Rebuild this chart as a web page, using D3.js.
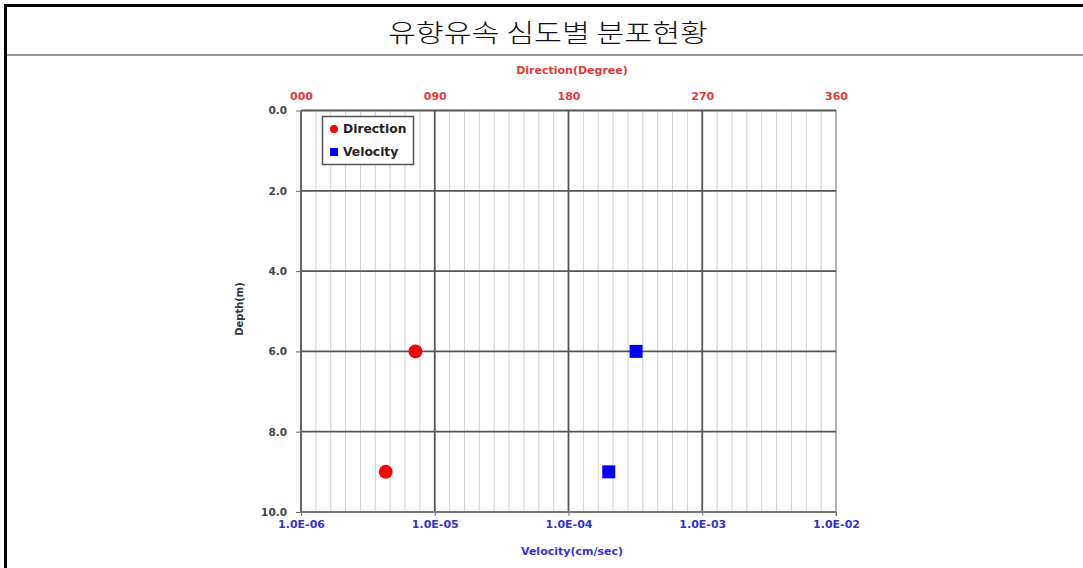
<!DOCTYPE html>
<html><head><meta charset="utf-8">
<script src="https://cdn.jsdelivr.net/npm/d3@7"></script>
<style>
html,body{margin:0;padding:0;background:#fff;}
svg{display:block;}
</style></head>
<body>
<script>
// ---- data ----
const depths = [6.0, 9.0];
const directionDeg = [77, 57];
const velocityCms = [3.2e-4, 2.0e-4];
const depthTicks = [0, 2, 4, 6, 8, 10];
const directionTicks = [0, 90, 180, 270, 360];
const velocityTicks = [1e-6, 1e-5, 1e-4, 1e-3, 1e-2];
const titleText = "유향유속 심도별 분포현황";
const legendItems = ["Direction", "Velocity"];

const W = 1083, H = 568;
const svg = d3.select("body").append("svg").attr("width", W).attr("height", H);

// frame
svg.append("line").attr("x1", 4).attr("x2", W).attr("y1", 5.5).attr("y2", 5.5).attr("stroke", "#000").attr("stroke-width", 3);
svg.append("line").attr("x1", 5.5).attr("x2", 5.5).attr("y1", 4).attr("y2", H).attr("stroke", "#000").attr("stroke-width", 3);
svg.append("line").attr("x1", 7).attr("x2", W).attr("y1", 55).attr("y2", 55).attr("stroke", "#777").attr("stroke-width", 1.6);

svg.append("text").attr("x", 548).attr("y", 42).attr("text-anchor", "middle")
  .attr("font-family", "'Noto Sans CJK KR'").attr("font-size", 25).attr("font-weight", 300).attr("fill", "#111")
  .attr("textLength", 320).attr("lengthAdjust", "spacingAndGlyphs")
  .text(titleText);

const x0 = 301, x1 = 836, y0 = 110.5, y1 = 512;
const xV = d3.scaleLog().domain([1e-6, 1e-2]).range([x0, x1]);
const xD = d3.scaleLinear().domain([0, 360]).range([x0, x1]);
const y = d3.scaleLinear().domain([0, 10]).range([y0, y1]);

const g = svg.append("g");
const font = "'DejaVu Sans', sans-serif";

// minor vertical grid (every 10 degrees)
g.selectAll(".minor").data(d3.range(10, 360, 10).filter(d => d % 90 !== 0)).join("line")
  .attr("x1", d => xD(d)).attr("x2", d => xD(d)).attr("y1", y0).attr("y2", y1)
  .attr("stroke", "#d0d0d0").attr("stroke-width", 1);
// major vertical grid
g.selectAll(".majorV").data(directionTicks.slice(1, 4)).join("line")
  .attr("x1", d => xD(d)).attr("x2", d => xD(d)).attr("y1", y0).attr("y2", y1)
  .attr("stroke", "#555").attr("stroke-width", 1.8);
// right edge
g.append("line").attr("x1", x1).attr("x2", x1).attr("y1", y0).attr("y2", y1 + 4).attr("stroke", "#999").attr("stroke-width", 1.5);
// horizontal grid
g.selectAll(".majorH").data(depthTicks.slice(1, 5)).join("line")
  .attr("x1", x0).attr("x2", x1).attr("y1", d => y(d)).attr("y2", d => y(d))
  .attr("stroke", "#555").attr("stroke-width", 1.8);
// top axis line
g.append("line").attr("x1", x0).attr("x2", x1).attr("y1", y0).attr("y2", y0).attr("stroke", "#555").attr("stroke-width", 1.8);
// bottom axis line
g.append("line").attr("x1", x0).attr("x2", x1).attr("y1", y1).attr("y2", y1).attr("stroke", "#777").attr("stroke-width", 1.8);
// left axis line
g.append("line").attr("x1", x0).attr("x2", x0).attr("y1", y0).attr("y2", y1).attr("stroke", "#666").attr("stroke-width", 2);

// left axis ticks + labels
const yAxis = d3.axisLeft(y).tickValues(depthTicks).tickFormat(d3.format(".1f")).tickSize(5).tickPadding(9);
const ya = svg.append("g").attr("transform", `translate(${x0},0)`).call(yAxis);
ya.select(".domain").remove();
ya.selectAll("line").attr("stroke", "#666");
ya.selectAll("text").attr("font-family", font).attr("font-weight", "bold").attr("font-size", 10.5).attr("fill", "#444");

// bottom axis ticks + labels
const fmtV = d => "1.0E-" + String(-Math.round(Math.log10(d))).padStart(2, "0");
const xAxis = d3.axisBottom(xV).tickValues(velocityTicks).tickFormat(fmtV).tickSize(4).tickPadding(4);
const xa = svg.append("g").attr("transform", `translate(0,${y1})`).call(xAxis);
xa.select(".domain").remove();
xa.selectAll("line").attr("stroke", "#777");
xa.selectAll("text").attr("font-family", font).attr("font-weight", "bold").attr("font-size", 11).attr("fill", "#3333cc");

// top axis labels
const tAxis = d3.axisTop(xD).tickValues(directionTicks).tickFormat(d => String(d).padStart(3, "0")).tickSize(0).tickPadding(11);
const ta = svg.append("g").attr("transform", `translate(0,${y0})`).call(tAxis);
ta.select(".domain").remove();
ta.selectAll("text").attr("font-family", font).attr("font-weight", "bold").attr("font-size", 11).attr("fill", "#e03a3a");

// axis titles
svg.append("text").attr("x", 572).attr("y", 74).attr("text-anchor", "middle")
  .attr("font-family", font).attr("font-weight", "bold").attr("font-size", 11).attr("fill", "#e03a3a").text("Direction(Degree)");
svg.append("text").attr("x", 572).attr("y", 555).attr("text-anchor", "middle")
  .attr("font-family", font).attr("font-weight", "bold").attr("font-size", 11).attr("fill", "#3333cc").text("Velocity(cm/sec)");
svg.append("text").attr("transform", "translate(243,309) rotate(-90)").attr("text-anchor", "middle")
  .attr("font-family", font).attr("font-weight", "bold").attr("font-size", 10).attr("fill", "#333").text("Depth(m)");

// data points
const pts = depths.map((d, i) => ({depth: d, dir: directionDeg[i], vel: velocityCms[i]}));
svg.selectAll(".dir").data(pts).join("circle")
  .attr("cx", d => xD(d.dir)).attr("cy", d => y(d.depth)).attr("r", 7).attr("fill", "#ff0000");
svg.selectAll(".vel").data(pts).join("rect")
  .attr("x", d => xV(d.vel) - 6.5).attr("y", d => y(d.depth) - 6.5).attr("width", 13).attr("height", 13).attr("fill", "#0000ff");

// legend
const lg = svg.append("g").attr("transform", "translate(322,116)");
lg.append("rect").attr("x", 0.5).attr("y", 0.5).attr("width", 91).attr("height", 48).attr("fill", "#fff").attr("stroke", "#555").attr("stroke-width", 1.5);
lg.append("circle").attr("cx", 12).attr("cy", 13).attr("r", 4).attr("fill", "#ff0000");
lg.append("rect").attr("x", 8).attr("y", 32).attr("width", 8).attr("height", 8).attr("fill", "#0000ff");
lg.selectAll(".lt").data(legendItems).join("text")
  .attr("x", 21).attr("y", (d, i) => 17 + i * 23)
  .attr("font-family", font).attr("font-weight", "bold").attr("font-size", 12.3).attr("fill", "#222")
  .text(d => d);
</script>
</body></html>
